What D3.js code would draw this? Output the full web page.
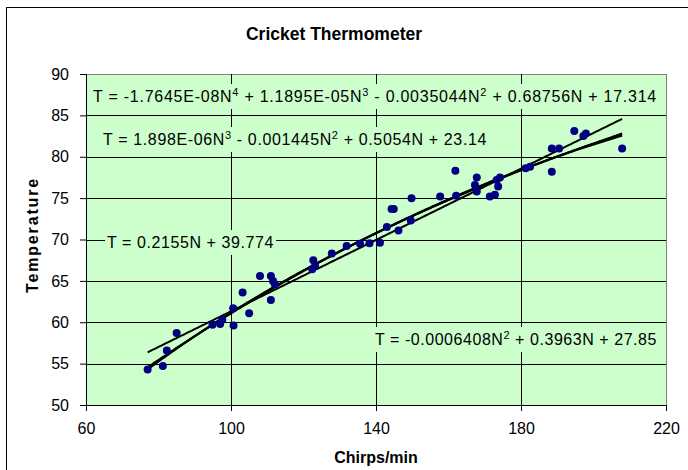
<!DOCTYPE html>
<html><head><meta charset="utf-8">
<script src="https://cdn.jsdelivr.net/npm/d3@7"></script>
<style>
body{margin:0;background:#fff}
svg{display:block;font-family:Arial,"Liberation Sans",sans-serif}
</style>
</head><body>
<svg id="c" width="688" height="470"></svg>
<script>
// ---- data ----
const chirps = [77.0,81.2,82.3,85.0,94.9,97.0,97.6,100.7,100.6,103.2,105.0,108.0,111.0,111.6,112.1,111.0,
  122.7,123.2,122.4,127.8,131.9,135.6,138.2,141.1,143.0,144.3,144.9,146.2,149.6,149.8,157.7,161.9,162.1,
  167.8,167.3,167.8,171.4,172.8,173.7,174.2,173.3,181.3,182.5,188.5,190.5,188.5,194.7,197.2,197.9,207.9];
const temps = [54.3,54.7,56.6,58.7,59.7,59.8,60.3,59.6,61.7,63.6,61.1,65.6,65.6,65.0,64.6,62.7,
  67.5,66.8,66.4,68.3,69.2,69.5,69.55,69.6,71.5,73.7,73.7,71.1,72.3,75.0,75.2,78.3,75.3,
  77.5,76.6,75.8,75.2,75.4,76.4,77.5,77.2,78.6,78.8,81.0,81.0,78.2,83.1,82.5,82.8,81.0];
const xTicks = [60,100,140,180,220];
const yTicks = [50,55,60,65,70,75,80,85,90];
const linearCoef = [39.774, 0.2155];
const quadCoef = [27.85, 0.3963, -0.0006408];
const cubicCoef = [23.14, 0.5054, -0.001445, 1.898e-6];
const quarticCoef = [17.314, 0.68756, -0.0035044, 1.1895e-5, -1.7645e-8];
const titleText = "Cricket Thermometer";
const xTitle = "Chirps/min";
const yTitle = "Temperature";
const eqQuartic = [["T = -1.7645E-08N"],["4",1],[" + 1.1895E-05N"],["3",1],[" - 0.0035044N"],["2",1],[" + 0.68756N + 17.314"]];
const eqCubic = [["T = 1.898E-06N"],["3",1],[" - 0.001445N"],["2",1],[" + 0.5054N + 23.14"]];
const eqLinear = [["T = 0.2155N + 39.774"]];
const eqQuad = [["T = -0.0006408N"],["2",1],[" + 0.3963N + 27.85"]];

// ---- layout ----
const svg = d3.select("#c");
const L = 86, R = 666, T = 74, B = 405;
const x = d3.scaleLinear().domain([60,220]).range([L,R]);
const y = d3.scaleLinear().domain([50,90]).range([B,T]);
const green = "#ccffcc";

// chart area border
svg.append("rect").attr("x",6.5).attr("y",7.5).attr("width",690).attr("height",470)
  .attr("fill","#fff").attr("stroke","#000").attr("stroke-width",1);

// plot area
svg.append("rect").attr("x",L+0.5).attr("y",T+0.5).attr("width",R-L).attr("height",B-T)
  .attr("fill",green).attr("stroke","#808080");

// gridlines
const snap = v => Math.round(v)+0.5;
svg.append("g").selectAll("line").data(yTicks.filter(d=>d>50&&d<90)).join("line")
  .attr("x1",L).attr("x2",R).attr("y1",d=>snap(y(d))).attr("y2",d=>snap(y(d)))
  .attr("stroke","#000").attr("stroke-width",1);
svg.append("g").selectAll("line").data(xTicks.filter(d=>d>60&&d<220)).join("line")
  .attr("y1",T).attr("y2",B).attr("x1",d=>snap(x(d))).attr("x2",d=>snap(x(d)))
  .attr("stroke","#000").attr("stroke-width",1);

// axes
const yAxis = svg.append("g").attr("transform",`translate(${L},0)`)
  .call(d3.axisLeft(y).tickValues(yTicks).tickSize(6).tickPadding(11).tickFormat(d3.format("d")));
const xAxis = svg.append("g").attr("transform",`translate(0,${B})`)
  .call(d3.axisBottom(x).tickValues(xTicks).tickSize(6).tickPadding(12).tickFormat(d3.format("d")));
[yAxis,xAxis].forEach(g=>{
  g.selectAll("text").attr("font-size",16).attr("fill","#000").attr("font-family",'Arial,"Liberation Sans",sans-serif');
  g.selectAll("line,path").attr("stroke","#000");
});

// trend lines (evaluated from the equations shown on the chart)
function poly(c){ return n => c.reduce((s,a,i)=>s+a*Math.pow(n,i),0); }
const nMin = d3.min(chirps), nMax = d3.max(chirps);
const ns = d3.range(nMin, nMax+0.001, (nMax-nMin)/200);
const lineGen = d3.line().x(d=>x(d[0])).y(d=>y(d[1]));
[linearCoef, quadCoef, cubicCoef, quarticCoef].forEach(c=>{
  const f = poly(c);
  svg.append("path").datum(ns.map(n=>[n,f(n)])).attr("d",lineGen)
    .attr("fill","none").attr("stroke","#000").attr("stroke-width",2);
});

// points
svg.append("g").selectAll("circle").data(chirps.map((c,i)=>[c,temps[i]])).join("circle")
  .attr("cx",d=>x(d[0])).attr("cy",d=>y(d[1])).attr("r",4).attr("fill","#000080");

// equation labels
function eqLabel(parts, anchorX, cy, target, alignRight){
  const g = svg.append("g");
  const bg = g.append("rect").attr("fill",green);
  const t = g.append("text").attr("font-size",16).attr("fill","#000").attr("y",cy+5.5);
  parts.forEach((p,i)=>{
    const ts = t.append("tspan").text(p[0]);
    const prevSup = i>0 && parts[i-1][1];
    if(p[1]) ts.attr("font-size",11).attr("dy",-6);
    else if(prevSup) ts.attr("dy",6);
  });
  let w = t.node().getComputedTextLength();
  const n = parts.reduce((s,p)=>s+p[0].length,0);
  t.attr("letter-spacing", (target - w)/n);
  w = t.node().getComputedTextLength();
  const x0 = alignRight ? anchorX - w : anchorX;
  t.attr("x", x0);
  bg.attr("x",x0-2).attr("y",cy-12).attr("width",w+4).attr("height",25);
}
eqLabel(eqQuartic, 93, 96, 564, false);
eqLabel(eqCubic, 103, 139, 384, false);
eqLabel(eqLinear, 107, 242, 167, false);
eqLabel(eqQuad, 657, 339, 282, true);

// titles
svg.append("text").attr("x",334).attr("y",40).attr("text-anchor","middle")
  .attr("font-size",17.5).attr("font-weight","bold").text(titleText);
svg.append("text").attr("x",L+(R-L)/2).attr("y",463).attr("text-anchor","middle")
  .attr("font-size",16).attr("font-weight","bold").text(xTitle);
const yt = svg.append("text").attr("transform",`translate(38,235) rotate(-90)`).attr("text-anchor","middle")
  .attr("font-size",16).attr("font-weight","bold").text(yTitle);
const yw = yt.node().getComputedTextLength();
yt.attr("letter-spacing",(116-yw)/yTitle.length);
</script>
</body></html>
